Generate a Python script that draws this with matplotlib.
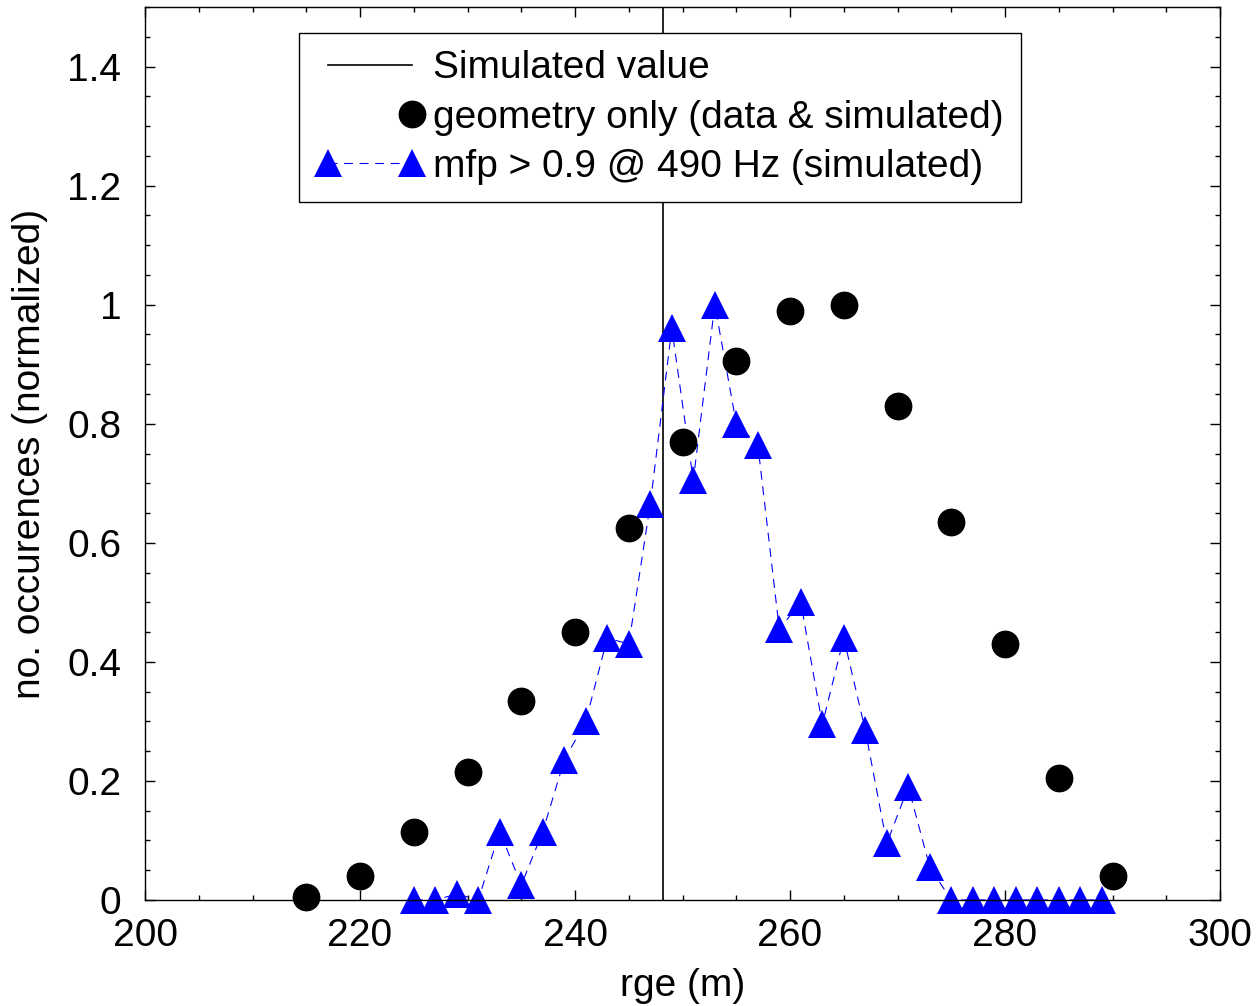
import matplotlib
matplotlib.use("Agg")
import matplotlib.pyplot as plt
from matplotlib.lines import Line2D
from matplotlib.legend_handler import HandlerLine2D
from matplotlib.ticker import MultipleLocator, FuncFormatter

plt.rcParams['font.family'] = ['Liberation Sans', 'DejaVu Sans']

# geometry only (data & simulated)
geo_x = [215, 220, 225, 230, 235, 240, 245, 250, 255, 260, 265, 270, 275, 280, 285, 290]
geo_y = [0.005, 0.04, 0.115, 0.215, 0.335, 0.45, 0.625, 0.77, 0.905, 0.99, 1.0,
         0.83, 0.635, 0.43, 0.205, 0.04]

# mfp > 0.9 @ 490 Hz (simulated)
mfp_x = [225, 227, 229, 231, 233, 235, 237, 239, 241, 243, 245, 247, 249, 251, 253,
         255, 257, 259, 261, 263, 265, 267, 269, 271, 273, 275, 277, 279, 281, 283,
         285, 287, 289]
mfp_y = [0.0, 0.0, 0.01, 0.0, 0.115, 0.025, 0.115, 0.235, 0.30, 0.44, 0.43, 0.665,
         0.96, 0.705, 1.0, 0.80, 0.765, 0.455, 0.50, 0.295, 0.44, 0.285, 0.095, 0.19,
         0.055, 0.0, 0.0, 0.0, 0.0, 0.0, 0.0, 0.0, 0.0]

sim_value = 248.2

FS = 28
DASH = (0, (8, 6))


class RightMarkerHandler(HandlerLine2D):
    # only draw the marker at the right end of the legend handle
    def create_artists(self, legend, orig_handle, xdescent, ydescent, width,
                       height, fontsize, trans):
        artists = super().create_artists(legend, orig_handle, xdescent, ydescent,
                                         width, height, fontsize, trans)
        for a in artists:
            n = len(a.get_xdata())
            a.set_markevery([n - 1])
        return artists


fig = plt.figure(figsize=(12.6, 10.06), dpi=100)
ax = fig.add_axes([0.1151, 0.1054, 0.8532, 0.8876])

ax.axvline(sim_value, color='black', lw=1.2)
ax.plot(mfp_x, mfp_y, color='blue', ls=DASH, lw=0.8, marker='^',
        markersize=20, markeredgewidth=0, clip_on=False)
ax.plot(geo_x, geo_y, ls='none', marker='o', color='black', markersize=19,
        clip_on=False)

ax.set_xlim(200, 300)
ax.set_ylim(0, 1.5)
ax.xaxis.set_major_locator(MultipleLocator(20))
ax.xaxis.set_minor_locator(MultipleLocator(5))
ax.yaxis.set_minor_locator(MultipleLocator(0.05))
ax.set_yticks([0, 0.2, 0.4, 0.6, 0.8, 1.0, 1.2, 1.4])
ax.yaxis.set_major_formatter(FuncFormatter(lambda v, p: '%g' % round(v, 2)))
ax.tick_params(which='both', direction='in', top=True, right=True, labelsize=FS,
               width=1)
ax.tick_params(which='major', length=7.5)
ax.tick_params(which='minor', length=3.8)
ax.tick_params(axis='x', which='major', pad=13)
ax.tick_params(axis='y', which='major', pad=17)
for s in ax.spines.values():
    s.set_linewidth(1.0)

ax.set_xlabel('rge (m)', fontsize=FS, labelpad=10)
ax.set_ylabel('no. occurences (normalized)', fontsize=FS, labelpad=14)

# legend handles
h_sim = Line2D([], [], color='black', lw=1.2)
h_geo = Line2D([], [], ls='none', marker='o', color='black', markersize=19)
h_mfp = Line2D([], [], color='blue', ls=DASH, lw=0.8, marker='^',
               markersize=20, markeredgewidth=0)
leg = ax.legend([h_sim, h_geo, h_mfp],
                ['Simulated value', 'geometry only (data & simulated)',
                 'mfp > 0.9 @ 490 Hz (simulated)'],
                handler_map={h_geo: RightMarkerHandler()},
                loc='upper left', bbox_to_anchor=(0.1433, 0.971), borderaxespad=0,
                fontsize=FS, numpoints=2, handlelength=2.75, handletextpad=0.25,
                labelspacing=0.34, borderpad=0.45, fancybox=False, framealpha=1,
                edgecolor='black')
leg.get_frame().set_linewidth(1.0)

fig.savefig('out.png', dpi=100)
